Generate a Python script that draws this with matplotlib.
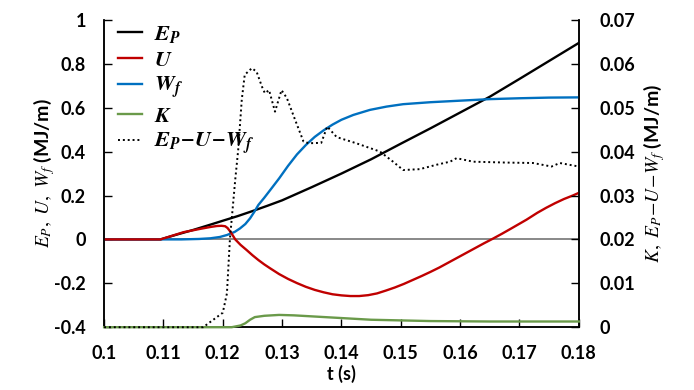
import matplotlib
matplotlib.use("Agg")
import matplotlib.pyplot as plt
from matplotlib.ticker import FuncFormatter

# ---------------- data ----------------
t_ep = [0.100, 0.1095, 0.112, 0.115, 0.118, 0.120, 0.1225, 0.125, 0.1275, 0.130,
        0.135, 0.140, 0.145, 0.150, 0.155, 0.160, 0.165, 0.170, 0.175, 0.180]
ep = [0.0, 0.0, 0.020, 0.043, 0.068, 0.085, 0.106, 0.129, 0.153, 0.178,
      0.238, 0.300, 0.365, 0.436, 0.506, 0.578, 0.650, 0.731, 0.813, 0.895]

t_u = [0.100, 0.1095, 0.1134, 0.1162, 0.118, 0.119, 0.1198, 0.1204, 0.1208, 0.1212,
       0.1216, 0.1221, 0.123, 0.124, 0.125, 0.126, 0.127, 0.128, 0.1295, 0.131,
       0.1325, 0.134, 0.1355, 0.137, 0.1385, 0.140, 0.1415, 0.143, 0.1445, 0.146,
       0.1475, 0.149, 0.1505, 0.152, 0.1535, 0.155, 0.1565, 0.158, 0.1595, 0.161,
       0.1625, 0.164, 0.1655, 0.167, 0.1685, 0.1712, 0.173, 0.1745, 0.176, 0.1775,
       0.179, 0.180]
u = [0.0, 0.0, 0.033, 0.048, 0.057, 0.061, 0.062, 0.060, 0.052, 0.038,
     0.022, 0.0, -0.025, -0.048, -0.072, -0.094, -0.114, -0.132, -0.158, -0.180,
     -0.199, -0.216, -0.230, -0.241, -0.250, -0.255, -0.258, -0.258, -0.254, -0.246,
     -0.233, -0.219, -0.203, -0.185, -0.167, -0.148, -0.128, -0.106, -0.084, -0.062,
     -0.040, -0.018, 0.003, 0.025, 0.048, 0.090, 0.121, 0.144, 0.165, 0.184,
     0.200, 0.212]

t_wf = [0.100, 0.113, 0.116, 0.1179, 0.1195, 0.1207, 0.122, 0.1229, 0.1238, 0.1246,
        0.1253, 0.126, 0.127, 0.128, 0.1295, 0.131, 0.1325, 0.134, 0.1355, 0.137,
        0.1385, 0.140, 0.142, 0.1448, 0.1476, 0.1504, 0.155, 0.160, 0.165, 0.170,
        0.175, 0.180]
wf = [0.0, 0.0, 0.002, 0.005, 0.011, 0.020, 0.034, 0.050, 0.070, 0.096,
      0.125, 0.157, 0.190, 0.225, 0.278, 0.335, 0.387, 0.430, 0.467, 0.497,
      0.523, 0.545, 0.567, 0.590, 0.605, 0.616, 0.625, 0.632, 0.639, 0.643,
      0.646, 0.647]

t_k = [0.100, 0.1215, 0.123, 0.1238, 0.1246, 0.1254, 0.127, 0.1295, 0.132, 0.1372,
       0.145, 0.155, 0.165, 0.180]
k = [0.0, 0.0, 0.0004, 0.0009, 0.0017, 0.0023, 0.0026, 0.0028, 0.0027, 0.0023,
     0.0017, 0.0014, 0.0013, 0.0013]

t_d = [0.100, 0.1167, 0.1200, 0.1207, 0.1212, 0.1221, 0.1226, 0.1232, 0.1237, 0.1249,
       0.1257, 0.1266, 0.1271, 0.1278, 0.1288, 0.1299, 0.1308, 0.1322, 0.1336, 0.1345,
       0.1366, 0.1376, 0.1392, 0.1425, 0.1465, 0.1487, 0.1504, 0.1532, 0.1560, 0.1583,
       0.1594, 0.1622, 0.1678, 0.1723, 0.1754, 0.1768, 0.1800]
d = [0.0, 0.0, 0.0033, 0.0077, 0.020, 0.0336, 0.0404, 0.0518, 0.0575, 0.0590,
     0.0582, 0.0548, 0.0533, 0.0540, 0.0491, 0.0540, 0.0522, 0.0472, 0.0423, 0.0419,
     0.0420, 0.0457, 0.0433, 0.0419, 0.0400, 0.0377, 0.0358, 0.0360, 0.0370, 0.0377,
     0.0385, 0.0377, 0.0375, 0.0374, 0.0366, 0.0374, 0.0366]

x_ticks = [0.10, 0.11, 0.12, 0.13, 0.14, 0.15, 0.16, 0.17, 0.18]
yl_ticks = [-0.4, -0.2, 0.0, 0.2, 0.4, 0.6, 0.8, 1.0]
yr_ticks = [0.0, 0.01, 0.02, 0.03, 0.04, 0.05, 0.06, 0.07]

# ---------------- style ----------------
plt.rcParams['font.family'] = ['Lato', 'DejaVu Sans']
plt.rcParams['mathtext.fontset'] = 'custom'
plt.rcParams['mathtext.rm'] = 'STIXGeneral'
plt.rcParams['mathtext.it'] = 'STIXGeneral:italic'
plt.rcParams['mathtext.bf'] = 'Lato:bold'
plt.rcParams['mathtext.bfit'] = 'STIXGeneral:italic:bold'

C_EP = '#000000'
C_U = '#C00000'
C_WF = '#0070C0'
C_K = '#6A9A4A'

fig = plt.figure(figsize=(6.94, 3.90), dpi=100)
ax = fig.add_axes([0.150, 0.161, 0.684, 0.788])
ax2 = ax.twinx()

ax.axhline(0, color='#7f7f7f', lw=1.3, zorder=1)

lw = 1.7
l1, = ax.plot(t_ep, ep, color=C_EP, lw=lw, zorder=3)
l2, = ax.plot(t_u, u, color=C_U, lw=lw, zorder=4)
l3, = ax.plot(t_wf, wf, color=C_WF, lw=lw, zorder=3)
l4, = ax2.plot(t_k, k, color=C_K, lw=lw, zorder=3, clip_on=False)
l5, = ax2.plot(t_d, d, color='#000000', lw=1.4, ls=(0, (1, 1.5)), zorder=3, clip_on=False)

ax.set_xlim(0.10, 0.18)
ax.set_ylim(-0.4, 1.0)
ax2.set_ylim(0.0, 0.07)

ax.set_xticks(x_ticks)
ax.set_yticks(yl_ticks)
ax2.set_yticks(yr_ticks)

def fmt(v, pos):
    s = ('%.2f' % v).rstrip('0').rstrip('.')
    if s == '-0':
        s = '0'
    return s

ax.xaxis.set_major_formatter(FuncFormatter(fmt))
ax.yaxis.set_major_formatter(FuncFormatter(fmt))
ax2.yaxis.set_major_formatter(FuncFormatter(fmt))

for a in (ax, ax2):
    a.spines['top'].set_visible(False)
    for s in a.spines.values():
        s.set_linewidth(1.1)
        s.set_color('black')
    a.tick_params(direction='in', length=6, width=1.0, labelsize=13)
    for lab in a.get_xticklabels() + a.get_yticklabels():
        lab.set_fontweight('bold')

ax.tick_params(axis='x', pad=13)
ax.tick_params(axis='y', pad=13)
ax2.tick_params(axis='y', pad=15)

ax.set_xlabel('t (s)', fontsize=13, fontweight='bold', labelpad=2)
ax.set_ylabel(r'$E_P,\ U,\ W_f\ \mathbf{(MJ/m)}$', fontsize=14, labelpad=-2)
ax2.set_ylabel(r'$K,\ E_P\!-\!U\!-\!W_f\ \mathbf{(MJ/m)}$', fontsize=14,
               rotation=90, labelpad=4)

leg = ax.legend([l1, l2, l3, l4, l5],
                [r'$\mathbfit{E_P}$', r'$\mathbfit{U}$', r'$\mathbfit{W_f}$',
                 r'$\mathbfit{K}$', r'$\mathbfit{E_P\!-\!U\!-\!W_f}$'],
                loc='upper left', bbox_to_anchor=(0.01, 1.015), frameon=False,
                fontsize=16, handlelength=1.1, handletextpad=0.55,
                labelspacing=0.22, borderaxespad=0.0)

fig.savefig('out.png', dpi=100)
